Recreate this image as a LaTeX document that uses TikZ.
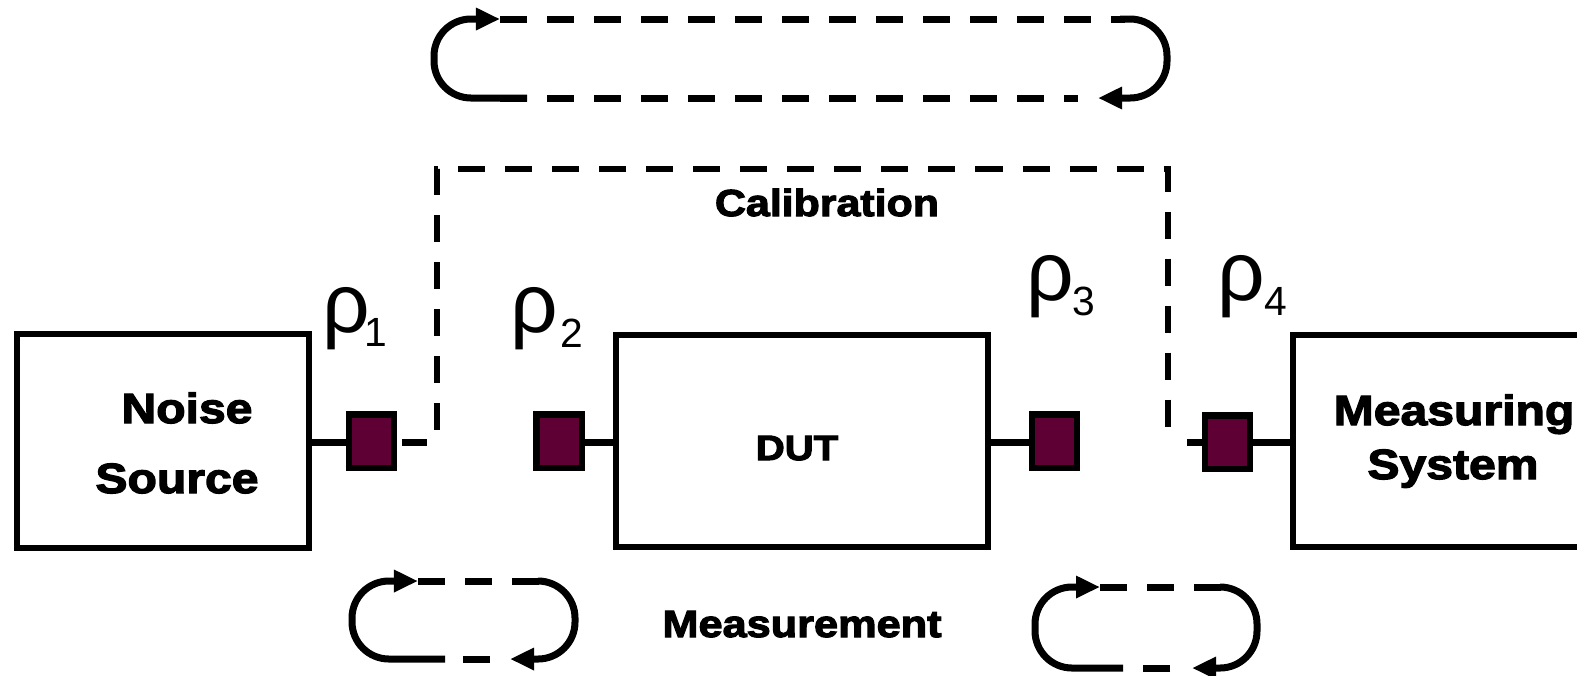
\documentclass[tikz,border=0pt]{standalone}
\usepackage{fontspec}
\setmainfont{Liberation Sans}
\newfontfamily\blk[FakeStretch=1.14, BoldFeatures={FakeBold=3}]{Liberation Sans}
\usetikzlibrary{arrows.meta}
\definecolor{portfill}{RGB}{94,0,51}
\begin{document}
\begin{tikzpicture}[x=0.01cm,y=-0.01cm,
  box/.style={draw, line width=0.065cm, inner sep=0pt},
  port/.style={draw, fill=portfill, line width=0.06cm, minimum width=0.45cm, minimum height=0.53cm, inner sep=0pt},
  wire/.style={line width=0.07cm},
  lbl/.style={anchor=base, inner sep=0pt},
  rhof/.style={anchor=base, inner sep=0pt, font=\fontsize{23.8}{24}\selectfont},
  subf/.style={anchor=base, inner sep=0pt, font=\fontsize{11.6}{12}\selectfont},
  calpath/.style={line width=0.065cm, dash pattern=on 0.27cm off 0.2cm},
  loopdash/.style={line width=0.07cm, dash pattern=on 0.27cm off 0.2cm},
  loopsolid/.style={line width=0.07cm, rounded corners=0.37cm, -{Triangle[length=0.24cm,width=0.21cm]}}
]
\useasboundingbox (0,0) rectangle (1577,675);
\clip (0,0) rectangle (1577,675);
\fill[white] (0,0) rectangle (1577,675);

% boxes
\node[box, minimum width=2.92cm, minimum height=2.14cm] (ns) at (163,441) {};
\node[box, minimum width=3.72cm, minimum height=2.12cm] (dut) at (802,441) {};
\node[box, minimum width=3.60cm, minimum height=2.12cm] (ms) at (1473,441) {};

% box texts
\node[lbl, font=\blk\bfseries\fontsize{12}{14}\selectfont] (tnoise) at (187,423) {Noise};
\node[lbl, font=\blk\bfseries\fontsize{12}{14}\selectfont] (tsource) at (177,493) {Source};
\node[lbl, font=\blk\bfseries\fontsize{10}{12}\selectfont] (tdut) at (797,460) {DUT};
\node[lbl, font=\blk\bfseries\fontsize{12}{14}\selectfont] (tmeas) at (1454,425) {Measuring};
\node[lbl, font=\blk\bfseries\fontsize{12}{14}\selectfont] (tsys) at (1453,479) {System};
\node[lbl, font=\blk\bfseries\fontsize{10.7}{12}\selectfont] (tcal) at (827,216) {Calibration};
\node[lbl, font=\blk\bfseries\fontsize{10.8}{12}\selectfont] (tmeasure) at (802,637) {Measurement};

% ports
\node[port] (p1) at (371.5,441) {};
\node[port] (p2) at (559,441) {};
\node[port] (p3) at (1054.5,441) {};
\node[port] (p4) at (1227.5,442) {};

% wires
\coordinate (s1) at (427,442);
\coordinate (s4) at (1187,442);
\draw[wire] (ns.east |- 0,442) -- (p1.west |- 0,442);
\draw[wire] ([xshift=0.05cm]p1.east |- 0,442) -- (s1);
\draw[wire] (p2.east |- 0,442) -- (dut.west |- 0,442);
\draw[wire] (dut.east |- 0,442) -- (p3.west |- 0,442);
\draw[wire] (s4) -- (p4.west |- 0,442);
\draw[wire] (p4.east |- 0,442) -- (ms.west |- 0,442);

% calibration path
\coordinate (ca) at (437,430);
\coordinate (cb) at (437,169);
\coordinate (cc) at (1168,169);
\coordinate (cd) at (1168,440);
\draw[calpath] (ca) -- (cb) -- (cc) -- (cd);

% rho labels
\node[rhof] (r1) at (346,332) {ρ};
\node[subf] (r1s) at (376,346) {1};
\node[rhof] (r2) at (534,332) {ρ};
\node[subf] (r2s) at (572,347) {2};
\node[rhof] (r3) at (1050,300) {ρ};
\node[subf] (r3s) at (1084,315) {3};
\node[rhof] (r4) at (1241,300) {ρ};
\node[subf] (r4s) at (1276,315) {4};

% top loop (calibration)
\draw[loopsolid] (527,98) -- (434,98) -- (434,19) -- (500,19);
\draw[loopdash] (500,19) -- (1125,19);
\draw[loopsolid] (1120,19) -- (1167,19) -- (1167,98) -- (1098,98);
\draw[loopdash] (500,98) -- (1078,98);

% bottom-left loop (measurement)
\draw[loopsolid] (445,659) -- (352,659) -- (352,581) -- (418,581);
\draw[loopdash] (418,581) -- (542,581);
\draw[loopsolid] (540,581) -- (575,581) -- (575,659) -- (510,659);
\draw[loopdash] (490,659) -- (445,659);

% bottom-right loop (measurement)
\draw[loopsolid] (1123,668) -- (1035,668) -- (1035,587) -- (1100,587);
\draw[loopdash] (1100,587) -- (1222,587);
\draw[loopsolid] (1220,587) -- (1257,587) -- (1257,668) -- (1192,668);
\draw[loopdash] (1170,668) -- (1123,668);
\end{tikzpicture}
\end{document}
